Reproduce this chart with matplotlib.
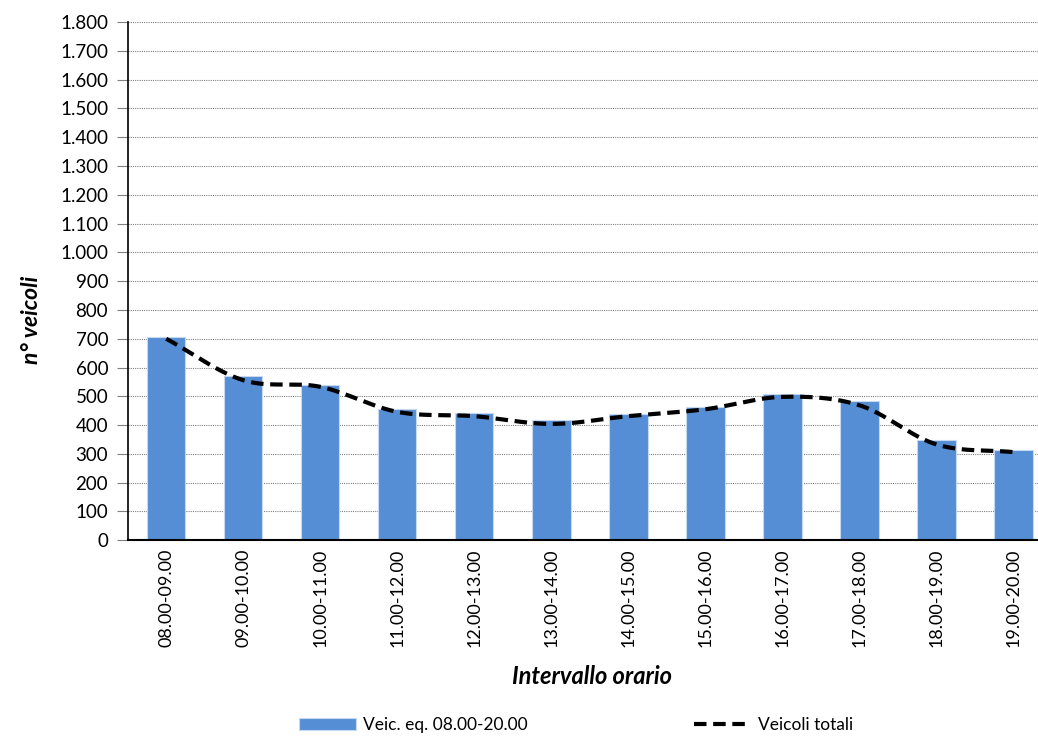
import matplotlib.pyplot as plt
from matplotlib.ticker import FuncFormatter
import numpy as np

fasce = ["08.00-09.00", "09.00-10.00", "10.00-11.00", "11.00-12.00",
         "12.00-13.00", "13.00-14.00", "14.00-15.00", "15.00-16.00",
         "16.00-17.00", "17.00-18.00", "18.00-19.00", "19.00-20.00"]
veic_eq = [706, 570, 540, 456, 443, 417, 440, 462, 507, 483, 347, 315]
veic_tot = [700, 556, 533, 446, 431, 404, 431, 455, 498, 469, 333, 306]


def smooth(xs, ys, n=30):
    # catmull-rom curve through the points, like the "smoothed line" option
    xs = np.asarray(xs, float)
    ys = np.asarray(ys, float)
    px = np.concatenate([[2 * xs[0] - xs[1]], xs, [2 * xs[-1] - xs[-2]]])
    py = np.concatenate([[2 * ys[0] - ys[1]], ys, [2 * ys[-1] - ys[-2]]])
    ox, oy = [], []
    for i in range(1, len(px) - 2):
        t = np.linspace(0, 1, n, endpoint=False)
        for p, o in ((px, ox), (py, oy)):
            p0, p1, p2, p3 = p[i - 1], p[i], p[i + 1], p[i + 2]
            o.extend(0.5 * (2 * p1 + (-p0 + p2) * t
                            + (2 * p0 - 5 * p1 + 4 * p2 - p3) * t ** 2
                            + (-p0 + 3 * p1 - 3 * p2 + p3) * t ** 3))
    ox.append(xs[-1])
    oy.append(ys[-1])
    return np.array(ox), np.array(oy)


plt.rcParams['font.family'] = ['Lato', 'DejaVu Sans']

fig = plt.figure(figsize=(10.38, 7.38), dpi=100)
ax = fig.add_axes([0.123, 0.268, 0.877, 0.702])

x = np.arange(len(fasce))
bars = ax.bar(x, veic_eq, width=0.5, color="#558ED5", edgecolor="#C6D9F1",
              linewidth=0.8, zorder=2, label="Veic. eq. 08.00-20.00")
sx, sy = smooth(x, veic_tot)
line, = ax.plot(sx, sy, color="black", linestyle=(0, (3, 1.6)), linewidth=3,
                zorder=3, label="Veicoli totali")

ax.set_xlim(-0.5, 11.32)
ax.set_ylim(0, 1800)
ax.set_yticks(np.arange(0, 1801, 100))
ax.yaxis.set_major_formatter(FuncFormatter(lambda v, p: f"{int(v):,}".replace(",", ".")))
ax.grid(axis="y", color="#808080", linestyle=(0, (1, 1)), linewidth=0.8, zorder=0)

ax.set_xticks(x)
ax.set_xticklabels(fasce, rotation=90, fontsize=13)
ax.tick_params(axis="x", length=0, pad=6)
ax.tick_params(axis="y", length=8, width=0.8, color="#808080", labelsize=13.5, pad=6)

for s in ["top", "right"]:
    ax.spines[s].set_visible(False)
ax.spines["left"].set_linewidth(1.2)
ax.spines["bottom"].set_linewidth(1.5)

ax.set_ylabel("n° veicoli", fontsize=16.5, fontweight="bold", style="italic")
ax.yaxis.set_label_coords(-0.094, 0.425)
fig.text(0.57, 0.083, "Intervallo orario", fontsize=17, fontweight="bold",
         style="italic", ha="center", va="center")

fig.legend(handles=[bars, line], loc="center", bbox_to_anchor=(0.555, 0.017),
           ncol=2, frameon=False, fontsize=12.5, columnspacing=9.6,
           handlelength=3.3, handletextpad=0.4)

fig.savefig("out.png", dpi=100)
